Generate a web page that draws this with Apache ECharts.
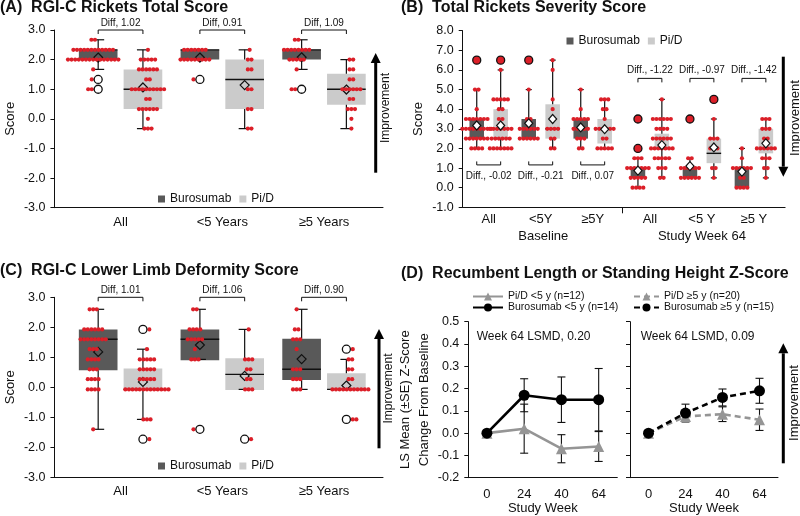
<!DOCTYPE html>
<html><head><meta charset="utf-8">
<script src="https://cdn.jsdelivr.net/npm/echarts@6/dist/echarts.min.js"></script>
<style>html,body{margin:0;padding:0;background:#fff}#c{width:800px;height:516px}</style>
</head><body><div id="c"></div>
<script>
// ---------------- DATA ----------------
// Panel A: RGI-C Rickets Total Score  (box = [min, q1, median, q3, max])
const A_cats = ['All', '<5 Years', '≥5 Years'];
const A_buro_box = [[1.67, 2.0, 2.33, 2.33, 2.67], [2.0, 2.0, 2.33, 2.33, 2.33], [1.67, 2.0, 2.33, 2.33, 2.67]];
const A_pid_box = [[-0.33, 0.33, 1.0, 1.67, 2.33], [-0.33, 0.33, 1.33, 2.0, 2.33], [-0.33, 0.48, 1.0, 1.52, 2.0]];
const A_buro_mean = [2.07, 2.07, 2.08];
const A_pid_mean = [1.06, 1.14, 0.99];
const A_buro_out = [[1.33, 1.0], [1.33], [1.0]];
const A_pid_out = [[], [], []];
// dot rows: [score, number of patients]
const A_buro_dots = [
  [[2.67, 2], [2.33, 12], [2.0, 15], [1.67, 1], [1.33, 1], [1.0, 2]],
  [[2.33, 7], [2.0, 9], [1.33, 1]],
  [[2.67, 2], [2.33, 8], [2.0, 5], [1.67, 1], [1.0, 2]]
];
const A_pid_dots = [
  [[2.33, 1], [2.0, 5], [1.67, 6], [1.33, 2], [1.0, 10], [0.67, 2], [0.33, 6], [0.0, 1], [-0.33, 3]],
  [[2.33, 1], [2.0, 2], [1.67, 2], [1.0, 2], [0.33, 2], [-0.33, 2]],
  [[2.0, 2], [1.67, 2], [1.33, 2], [1.0, 6], [0.67, 2], [0.33, 3], [0.0, 1], [-0.33, 1]]
];
const A_diff = ['Diff, 1.02', 'Diff, 0.91', 'Diff, 1.09'];

// Panel B: Total Rickets Severity Score
const B_cats = ['All', '<5Y', '≥5Y', 'All', '<5 Y', '≥5 Y'];
const B_groups = ['Baseline', 'Study Week 64'];
const B_buro_box = [[2.0, 2.5, 3.0, 3.5, 5.0], [2.5, 2.5, 3.0, 3.5, 5.0], [2.0, 2.5, 3.0, 3.5, 5.0],
                    [0.0, 0.5, 1.0, 1.0, 1.5], [0.5, 0.5, 1.0, 1.0, 1.5], [0.0, 0.0, 1.0, 1.0, 2.0]];
const B_pid_box = [[2.0, 2.5, 3.0, 4.0, 6.0], [2.0, 2.5, 3.0, 4.25, 6.5], [2.0, 2.25, 3.0, 3.5, 4.5],
                   [0.5, 2.0, 2.0, 2.75, 4.5], [0.5, 1.25, 1.75, 2.5, 3.5], [0.5, 1.75, 2.0, 3.0, 3.5]];
const B_buro_mean = [3.17, 3.28, 3.07, 0.87, 1.1, 0.82];
const B_pid_mean = [3.17, 3.5, 2.98, 2.17, 2.05, 2.26];
const B_buro_out = [[6.5], [6.5], [], [3.5, 2.0], [3.5], []];
const B_pid_out = [[6.5], [], [], [], [4.5], []];
const B_buro_dots = [
  [[5.0, 2], [4.0, 1], [3.5, 7], [3.0, 9], [2.5, 7], [2.0, 4]],
  [[5.0, 1], [3.5, 2], [3.0, 6], [2.5, 6]],
  [[5.0, 1], [4.0, 1], [3.5, 5], [3.0, 5], [2.5, 3], [2.0, 2]],
  [[1.5, 3], [1.0, 7], [0.5, 5], [0.0, 4]],
  [[1.5, 2], [1.0, 6], [0.5, 6]],
  [[2.0, 1], [1.5, 1], [1.0, 6], [0.5, 2], [0.0, 4]]
];
const B_pid_dots = [
  [[6.0, 1], [4.5, 5], [4.0, 2], [3.5, 2], [3.0, 7], [2.5, 6], [2.0, 7]],
  [[6.5, 1], [6.0, 1], [4.5, 1], [4.0, 1], [3.0, 4], [2.5, 2], [2.0, 2]],
  [[4.5, 3], [4.0, 2], [3.5, 1], [3.0, 6], [2.5, 2], [2.0, 5]],
  [[4.5, 1], [3.5, 6], [3.0, 4], [2.5, 6], [2.0, 7], [1.5, 5], [1.0, 3], [0.5, 2]],
  [[3.5, 1], [2.5, 3], [2.0, 3], [1.0, 2], [0.5, 1]],
  [[3.5, 3], [3.0, 3], [2.5, 2], [2.0, 6], [1.5, 3], [1.0, 2], [0.5, 1]]
];
const B_diff = ['Diff., -0.02', 'Diff., -0.21', 'Diff., 0.07', 'Diff., -1.22', 'Diff., -0.97', 'Diff., -1.42'];

// Panel C: RGI-C Lower Limb Deformity Score
const C_cats = ['All', '<5 Years', '≥5 Years'];
const C_buro_box = [[-1.4, 0.57, 1.6, 1.93, 2.6], [0.93, 0.9, 1.6, 1.93, 2.6], [-0.07, 0.24, 0.6, 1.62, 2.6]];
const C_pid_box = [[-1.07, -0.07, -0.07, 0.63, 1.27], [-0.07, -0.09, 0.43, 0.97, 1.93], [-0.07, -0.07, -0.07, 0.47, 0.93]];
const C_buro_mean = [1.18, 1.41, 0.94];
const C_pid_mean = [0.18, 0.38, 0.06];
const C_buro_out = [[], [-1.4], []];
const C_pid_out = [[1.93, -1.73], [-1.73], [1.27, -1.07]];
const C_buro_dots = [
  [[2.6, 3], [1.93, 6], [1.6, 8], [1.27, 3], [0.93, 4], [0.6, 3], [0.27, 4], [-0.07, 4], [-1.4, 1]],
  [[2.6, 2], [1.93, 4], [1.6, 5], [1.27, 1], [0.93, 3], [-1.4, 1]],
  [[2.6, 1], [1.93, 2], [1.6, 3], [1.27, 1], [0.6, 3], [0.27, 3], [-0.07, 3]]
];
const C_pid_dots = [
  [[1.93, 1], [1.27, 1], [0.93, 5], [0.6, 5], [0.27, 5], [-0.07, 13], [-1.07, 3], [-1.73, 1]],
  [[1.93, 1], [0.93, 3], [0.6, 2], [0.27, 2], [-0.07, 3], [-1.73, 1]],
  [[1.27, 1], [0.93, 2], [0.6, 2], [0.27, 2], [-0.07, 11], [-1.07, 2]]
];
const C_diff = ['Diff, 1.01', 'Diff, 1.06', 'Diff, 0.90'];

// Panel D: height Z-score change (LS mean, SE)
const D_weeks = ['0', '24', '40', '64'];
const D_pid_lt5 = [0, 0.02, -0.07, -0.06];
const D_pid_lt5_se = [0, 0.11, 0.063, 0.067];
const D_buro_lt5 = [0, 0.17, 0.15, 0.15];
const D_buro_lt5_se = [0, 0.074, 0.102, 0.14];
const D_pid_ge5 = [0, 0.075, 0.085, 0.06];
const D_pid_ge5_se = [0, 0.02, 0.033, 0.048];
const D_buro_ge5 = [0, 0.09, 0.16, 0.19];
const D_buro_ge5_se = [0, 0.04, 0.038, 0.056];
const D_names = ['Pi/D <5 y (n=12)', 'Burosumab <5 y (n=14)', 'Pi/D ≥5 y (n=20)', 'Burosumab ≥5 y (n=15)'];
const D_notes = ['Week 64 LSMD, 0.20', 'Week 64 LSMD, 0.09'];

// ---------------- LAYOUT / STYLE ----------------
const FONT = '"Liberation Sans", Arial, Helvetica, sans-serif';
const INK = '#111';
const RED = '#dc1f28', DARK = '#595959', LIGHT = '#cbcbcb', GRAY = '#959595';
const A_pos = [1, 2, 3];
const B_pos = [1, 2, 3, 4.1, 5.1, 6.1];
const GAP = 3.6, R = 2.1;

function boxSeries(name, gi, boxes, pos, off, halfW, capW, color, z) {
  return {
    type: 'custom', name, xAxisIndex: gi, yAxisIndex: gi, clip: false, z,
    color, itemStyle: { color },
    data: boxes.map((b, i) => [pos[i] + off].concat(b)),
    renderItem: (params, api) => {
      const x = api.value(0);
      const c = k => api.coord([x, api.value(k)]);
      const pMn = c(1), pQ1 = c(2), pMd = c(3), pQ3 = c(4), pMx = c(5);
      const hw = api.size([halfW, 0])[0];
      const cx = pMd[0];
      const ls = { stroke: INK, lineWidth: 1.2 };
      return {
        type: 'group', children: [
          { type: 'rect', shape: { x: cx - hw, y: pQ3[1], width: 2 * hw, height: Math.max(pQ1[1] - pQ3[1], 0.5) }, style: { fill: color } },
          { type: 'line', shape: { x1: cx, y1: pQ3[1], x2: cx, y2: pMx[1] }, style: ls },
          { type: 'line', shape: { x1: cx, y1: pQ1[1], x2: cx, y2: pMn[1] }, style: ls },
          { type: 'line', shape: { x1: cx - capW, y1: pMx[1], x2: cx + capW, y2: pMx[1] }, style: ls },
          { type: 'line', shape: { x1: cx - capW, y1: pMn[1], x2: cx + capW, y2: pMn[1] }, style: ls },
          { type: 'line', shape: { x1: cx - hw, y1: pMd[1], x2: cx + hw, y2: pMd[1] }, style: { stroke: INK, lineWidth: 1.4 } }
        ]
      };
    }
  };
}

function dotSeries(gi, rowsList, pos, off, outList, side, shift, beside) {
  const data = [];
  rowsList.forEach((rows, i) => {
    const x = pos[i] + off;
    const outs = outList[i] || [];
    rows.forEach(([v, n]) => {
      const isOut = beside && outs.some(o => Math.abs(o - v) < 1e-6);
      for (let k = 0; k < n; k++) {
        const dx = isOut ? side * (6.4 + k * GAP) : shift + (k - (n - 1) / 2) * GAP;
        data.push([x, v, dx]);
      }
    });
  });
  return {
    type: 'custom', xAxisIndex: gi, yAxisIndex: gi, clip: false, z: 4, data,
    renderItem: (p, api) => {
      const c = api.coord([api.value(0), api.value(1)]);
      return { type: 'circle', shape: { cx: c[0] + api.value(2), cy: c[1], r: R }, style: { fill: RED } };
    }
  };
}

function meanSeries(gi, means, pos, off, fill, z, size) {
  return {
    type: 'scatter', xAxisIndex: gi, yAxisIndex: gi, z, symbol: 'diamond', symbolSize: size,
    itemStyle: { color: fill, borderColor: INK, borderWidth: 1.2, opacity: 1 },
    data: means.map((m, i) => [pos[i] + off, m]), silent: true
  };
}

function outSeries(gi, outs, pos, off, fill) {
  const data = [];
  outs.forEach((arr, i) => arr.forEach(v => data.push([pos[i] + off, v])));
  return {
    type: 'scatter', xAxisIndex: gi, yAxisIndex: gi, z: 6, symbol: 'circle', symbolSize: 8,
    itemStyle: { color: fill, borderColor: INK, borderWidth: 1.3, opacity: 1 }, data, silent: true
  };
}

function bracketSeries(gi, pos, idxs, off, labels, yVal, tickLen, textDy, fs) {
  return {
    type: 'custom', xAxisIndex: gi, yAxisIndex: gi, clip: false, z: 6,
    data: idxs.map(i => [pos[i], yVal, i]),
    renderItem: (params, api) => {
      const p = api.value(0), i = api.value(2);
      const l = api.coord([p - off, api.value(1)]), r = api.coord([p + off, api.value(1)]);
      const y = l[1];
      return {
        type: 'group', children: [
          { type: 'polyline', shape: { points: [[l[0], y + tickLen], [l[0], y], [r[0], y], [r[0], y + tickLen]] }, style: { stroke: INK, lineWidth: 1, fill: null } },
          { type: 'text', style: { text: labels[i], x: (l[0] + r[0]) / 2, y: y + textDy, align: 'center', verticalAlign: 'middle', font: fs + 'px ' + FONT, fill: INK } }
        ]
      };
    }
  };
}

function errSeries(gi, vals, ses) {
  const data = [];
  vals.forEach((v, i) => { if (ses[i] > 0) data.push([i, v - ses[i], v + ses[i]]); });
  return {
    type: 'custom', xAxisIndex: gi, yAxisIndex: gi, z: 1, data,
    renderItem: (params, api) => {
      const lo = api.coord([api.value(0), api.value(1)]), hi = api.coord([api.value(0), api.value(2)]);
      const x = lo[0], s = { stroke: INK, lineWidth: 1.1 };
      return {
        type: 'group', children: [
          { type: 'line', shape: { x1: x, y1: lo[1], x2: x, y2: hi[1] }, style: s },
          { type: 'line', shape: { x1: x - 4, y1: lo[1], x2: x + 4, y2: lo[1] }, style: s },
          { type: 'line', shape: { x1: x - 4, y1: hi[1], x2: x + 4, y2: hi[1] }, style: s }
        ]
      };
    }
  };
}

const fmt1 = v => (Math.abs(v) < 1e-9 ? 0 : v).toFixed(1);
const axLine = { show: true, onZero: false, lineStyle: { color: INK, width: 1 } };
const tickTxt = { fontSize: 12.5, fontFamily: FONT, color: INK };

function yAx(gi, min, max, interval, name, gap, showLabel) {
  return {
    type: 'value', gridIndex: gi, min, max, interval,
    axisLine: axLine, splitLine: { show: false },
    axisTick: { show: true, inside: false, length: 4, lineStyle: { color: INK } },
    axisLabel: Object.assign({ show: showLabel !== false, formatter: fmt1, margin: 9 }, tickTxt),
    name: name || '', nameLocation: 'middle', nameGap: gap || 30,
    nameTextStyle: { fontSize: 13, fontFamily: FONT, color: INK, lineHeight: 19 }
  };
}

function catValX(gi, min, max, pos, cats, margin) {
  return {
    type: 'value', gridIndex: gi, min, max, position: 'bottom', offset: 0,
    axisLine: axLine, splitLine: { show: false }, axisTick: { show: false },
    axisLabel: {
      show: true, customValues: pos, margin, fontSize: 13, fontFamily: FONT, color: INK,
      formatter: v => { const i = pos.findIndex(p => Math.abs(p - v) < 1e-6); return i >= 0 ? cats[i] : ''; }
    }
  };
}

const xAxes = [
  catValX(0, 0.35, 3.58, A_pos, A_cats, 8),
  Object.assign(catValX(1, 0.5, 6.7, B_pos, B_cats, 6),
    { axisTick: { show: true, customValues: [3.57], length: 6, lineStyle: { color: INK } } }),
  catValX(2, 0.35, 3.58, A_pos, C_cats, 8),
  {
    type: 'category', gridIndex: 3, data: D_weeks, boundaryGap: true, axisLine: axLine, axisTick: { show: false },
    axisLabel: { margin: 10, fontSize: 13, fontFamily: FONT, color: INK },
    name: 'Study Week', nameLocation: 'middle', nameGap: 24, nameTextStyle: { fontSize: 13, fontFamily: FONT, color: INK }
  },
  {
    type: 'category', gridIndex: 4, data: D_weeks, boundaryGap: true, axisLine: axLine, axisTick: { show: false },
    axisLabel: { margin: 10, fontSize: 13, fontFamily: FONT, color: INK },
    name: 'Study Week', nameLocation: 'middle', nameGap: 24, nameTextStyle: { fontSize: 13, fontFamily: FONT, color: INK }
  },
  Object.assign(catValX(1, 0.5, 6.7, [2.05, 5.1], B_groups, 23), { axisLine: { show: false, onZero: false } })
];

const yAxes = [
  yAx(0, -3, 3, 1, 'Score', 30),
  yAx(1, -1, 8, 1, 'Score', 31),
  yAx(2, -3, 3, 1, 'Score', 30),
  yAx(3, -0.2, 0.5, 0.1, 'LS Mean (±SE) Z-Score\nChange From Baseline', 29),
  yAx(4, -0.2, 0.5, 0.1, '', 0, false)
];

const offAC = 0.22, hwAC = 0.19, offB = 0.23, hwB = 0.14;

const series = [
  // A
  boxSeries('Burosumab', 0, A_buro_box, A_pos, -offAC, hwAC, 6, DARK, 2),
  boxSeries('Pi/D', 0, A_pid_box, A_pos, offAC, hwAC, 6, LIGHT, 2),
  meanSeries(0, A_buro_mean, A_pos, -offAC, 'rgba(0,0,0,0)', 3, 9),
  meanSeries(0, A_pid_mean, A_pos, offAC, 'rgba(0,0,0,0)', 3, 9),
  dotSeries(0, A_buro_dots, A_pos, -offAC, A_buro_out, -1, -5, true),
  dotSeries(0, A_pid_dots, A_pos, offAC, A_pid_out, 1, 5, true),
  outSeries(0, A_buro_out, A_pos, -offAC, '#fff'),
  outSeries(0, A_pid_out, A_pos, offAC, '#fff'),
  bracketSeries(0, A_pos, [0, 1, 2], offAC, A_diff, 3.0, 4, -7, 10),
  // B
  boxSeries('Burosumab', 1, B_buro_box, B_pos, -offB, hwB, 3, DARK, 2),
  boxSeries('Pi/D', 1, B_pid_box, B_pos, offB, hwB, 3, LIGHT, 2),
  dotSeries(1, B_buro_dots, B_pos, -offB, B_buro_out, -1, 0, false),
  dotSeries(1, B_pid_dots, B_pos, offB, B_pid_out, 1, 0, false),
  meanSeries(1, B_buro_mean, B_pos, -offB, '#fff', 5, [8, 9]),
  meanSeries(1, B_pid_mean, B_pos, offB, '#fff', 5, [8, 9]),
  outSeries(1, B_buro_out, B_pos, -offB, RED),
  outSeries(1, B_pid_out, B_pos, offB, RED),
  bracketSeries(1, B_pos, [0, 1, 2], offB, B_diff, 1.16, -3.5, 11.5, 10),
  bracketSeries(1, B_pos, [3, 4, 5], offB, B_diff, 5.57, 4, -8.5, 10),
  // C
  boxSeries('Burosumab', 2, C_buro_box, A_pos, -offAC, hwAC, 6, DARK, 2),
  boxSeries('Pi/D', 2, C_pid_box, A_pos, offAC, hwAC, 6, LIGHT, 2),
  meanSeries(2, C_buro_mean, A_pos, -offAC, 'rgba(0,0,0,0)', 3, 9),
  meanSeries(2, C_pid_mean, A_pos, offAC, 'rgba(0,0,0,0)', 3, 9),
  dotSeries(2, C_buro_dots, A_pos, -offAC, C_buro_out, -1, -5, true),
  dotSeries(2, C_pid_dots, A_pos, offAC, C_pid_out, 1, 4, true),
  outSeries(2, C_buro_out, A_pos, -offAC, '#fff'),
  outSeries(2, C_pid_out, A_pos, offAC, '#fff'),
  bracketSeries(2, A_pos, [0, 1, 2], offAC, C_diff, 3.0, 4, -7, 10),
  // D
  errSeries(3, D_pid_lt5, D_pid_lt5_se),
  errSeries(3, D_buro_lt5, D_buro_lt5_se),
  errSeries(4, D_pid_ge5, D_pid_ge5_se),
  errSeries(4, D_buro_ge5, D_buro_ge5_se),
  { type: 'line', name: D_names[0], xAxisIndex: 3, yAxisIndex: 3, data: D_pid_lt5, z: 2, color: GRAY,
    symbol: 'triangle', symbolSize: 11, lineStyle: { color: GRAY, width: 2.6 }, itemStyle: { color: GRAY } },
  { type: 'line', name: D_names[1], xAxisIndex: 3, yAxisIndex: 3, data: D_buro_lt5, z: 3, color: '#000',
    symbol: 'circle', symbolSize: 11, lineStyle: { color: '#000', width: 2.6 }, itemStyle: { color: '#000' } },
  { type: 'line', name: D_names[2], xAxisIndex: 4, yAxisIndex: 4, data: D_pid_ge5, z: 2, color: GRAY,
    symbol: 'triangle', symbolSize: 11, lineStyle: { color: GRAY, width: 2.6, type: [6, 4] }, itemStyle: { color: GRAY } },
  { type: 'line', name: D_names[3], xAxisIndex: 4, yAxisIndex: 4, data: D_buro_ge5, z: 3, color: '#000',
    symbol: 'circle', symbolSize: 11, lineStyle: { color: '#000', width: 2.6, type: [6, 4] }, itemStyle: { color: '#000' } }
];

const legTxt = { fontSize: 12, fontFamily: FONT, color: INK };
const boxLegend = (left, top) => ({
  left, top, padding: 0, itemWidth: 7, itemHeight: 7, itemGap: 8, icon: 'rect', selectedMode: false,
  data: ['Burosumab', 'Pi/D'], textStyle: legTxt
});
const lineLegend = (left, names, w) => ({
  left, top: 291, orient: 'vertical', padding: 0, itemWidth: w, itemHeight: 10, itemGap: 0, selectedMode: false,
  data: names, textStyle: { fontSize: 10.5, fontFamily: FONT, color: INK }
});

function arrow(x, yFrom, yTip) {
  const dir = yTip < yFrom ? 1 : -1; // 1 = up
  const base = yTip + dir * 10;
  return [
    { type: 'line', shape: { x1: x, y1: yFrom, x2: x, y2: base }, style: { stroke: '#000', lineWidth: 3 } },
    { type: 'polygon', shape: { points: [[x - 5, base], [x + 5, base], [x, yTip]] }, style: { fill: '#000' } }
  ];
}
const improve = (x, y, fs) => ({
  type: 'text', x, y, rotation: Math.PI / 2,
  style: { text: 'Improvement', align: 'center', verticalAlign: 'middle', font: fs + 'px ' + FONT, fill: INK }
});
const note = (x, y, t) => ({ type: 'text', x, y, style: { text: t, align: 'left', verticalAlign: 'middle', font: '12px ' + FONT, fill: INK } });

const titleStyle = { fontSize: 16, fontWeight: 'bold', fontFamily: FONT, color: INK };
const option = {
  backgroundColor: '#fff',
  animation: false,
  title: [
    { text: '(A)  RGI-C Rickets Total Score', left: 0, top: 0, padding: 0, textStyle: titleStyle },
    { text: '(B)  Total Rickets Severity Score', left: 401, top: 0, padding: 0, textStyle: titleStyle },
    { text: '(C)  RGI-C Lower Limb Deformity Score', left: 0, top: 263, padding: 0, textStyle: titleStyle },
    { text: '(D)  Recumbent Length or Standing Height Z-Score', left: 401, top: 266, padding: 0, textStyle: titleStyle }
  ],
  grid: [
    { left: 50, top: 30, width: 333, height: 177.7 },
    { left: 462.7, top: 30.7, width: 322.4, height: 176.6 },
    { left: 50, top: 297.3, width: 333, height: 180 },
    { left: 468.3, top: 321.7, width: 149, height: 156 },
    { left: 630, top: 321.7, width: 148, height: 156 }
  ],
  xAxis: xAxes,
  yAxis: yAxes,
  legend: [
    boxLegend(158, 193),
    boxLegend(566.5, 35),
    boxLegend(158, 460),
    lineLegend(472, [D_names[0], D_names[1]], 30),
    lineLegend(633, [D_names[2], D_names[3]], 25)
  ],
  graphic: [].concat(
    arrow(375.7, 172.7, 53), [improve(385.7, 108, 12)],
    arrow(783.3, 56.7, 176.7), [improve(795, 118, 13)],
    arrow(379, 448.3, 329), [improve(388.3, 388.5, 12)],
    arrow(783.3, 463.3, 343.3), [improve(794.3, 403, 13)],
    [note(476.7, 336.7, D_notes[0]), note(640.7, 336.7, D_notes[1])]
  ),
  series
};

const chart = echarts.init(document.getElementById('c'), null, { renderer: 'canvas' });
chart.setOption(option);
</script></body></html>
